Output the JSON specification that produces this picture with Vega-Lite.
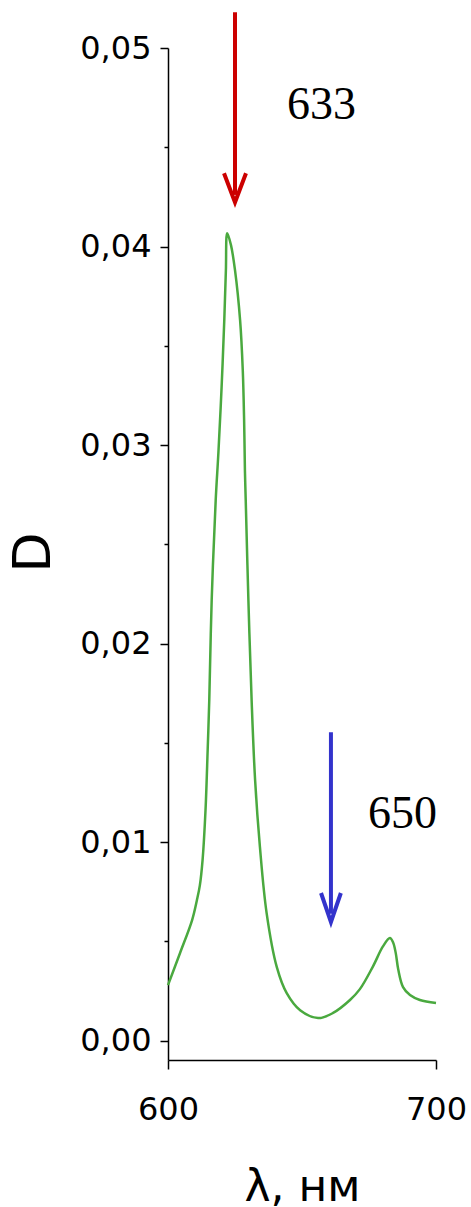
{
  "$schema": "https://vega.github.io/schema/vega-lite/v6.json",
  "autosize": {"type": "none"},
  "padding": {"left": 168, "top": 48, "right": 35, "bottom": 147},
  "width": 268,
  "height": 1012,
  "background": "white",
  "config": {"view": {"stroke": null}},
  "datasets": {
    "curve": [
      {"wl": 600, "d": 0.0028},
      {"wl": 604.5, "d": 0.00442},
      {"wl": 609.0, "d": 0.00608},
      {"wl": 610.8, "d": 0.00709},
      {"wl": 611.9, "d": 0.00784},
      {"wl": 612.9, "d": 0.0091},
      {"wl": 614.0, "d": 0.01162},
      {"wl": 614.8, "d": 0.01464},
      {"wl": 615.4, "d": 0.01716},
      {"wl": 616.3, "d": 0.02219},
      {"wl": 617.8, "d": 0.02723},
      {"wl": 618.8, "d": 0.0296},
      {"wl": 620.0, "d": 0.03292},
      {"wl": 621.0, "d": 0.03629},
      {"wl": 621.6, "d": 0.03881},
      {"wl": 622.1, "d": 0.04067},
      {"wl": 623.5, "d": 0.04007},
      {"wl": 625.0, "d": 0.03881},
      {"wl": 626.9, "d": 0.03629},
      {"wl": 627.9, "d": 0.03377},
      {"wl": 628.4, "d": 0.03126},
      {"wl": 628.7, "d": 0.02874},
      {"wl": 629.0, "d": 0.02723},
      {"wl": 630.0, "d": 0.02219},
      {"wl": 631.2, "d": 0.01716},
      {"wl": 632.5, "d": 0.01313},
      {"wl": 634.3, "d": 0.00976},
      {"wl": 636.8, "d": 0.00643},
      {"wl": 640.6, "d": 0.00371},
      {"wl": 644.3, "d": 0.0024},
      {"wl": 649.3, "d": 0.00154},
      {"wl": 656.0, "d": 0.00114},
      {"wl": 661.6, "d": 0.0014},
      {"wl": 667.9, "d": 0.00205},
      {"wl": 671.6, "d": 0.0026},
      {"wl": 676.5, "d": 0.00375},
      {"wl": 680.2, "d": 0.00475},
      {"wl": 682.8, "d": 0.00517},
      {"wl": 684.0, "d": 0.00495},
      {"wl": 685.0, "d": 0.0044},
      {"wl": 685.9, "d": 0.0036},
      {"wl": 687.7, "d": 0.0027},
      {"wl": 690.3, "d": 0.0023},
      {"wl": 694.0, "d": 0.00205},
      {"wl": 700.0, "d": 0.0019}
    ],
    "shafts": [
      {"arrow": "red", "x": 625.0, "y": 0.0518, "y2": 0.0426},
      {"arrow": "blue", "x": 660.8, "y": 0.01554, "y2": 0.0064}
    ],
    "heads": [
      {"arrow": "red", "o": 0, "x": 620.9, "y": 0.04369},
      {"arrow": "red", "o": 1, "x": 625.0, "y": 0.04223},
      {"arrow": "red", "o": 2, "x": 629.1, "y": 0.04369},
      {"arrow": "blue", "o": 0, "x": 657.1, "y": 0.00744},
      {"arrow": "blue", "o": 1, "x": 660.8, "y": 0.00598},
      {"arrow": "blue", "o": 2, "x": 664.5, "y": 0.00744}
    ],
    "labels": [
      {"x": 657.3, "y": 0.04641, "text": "633"},
      {"x": 687.5, "y": 0.01071, "text": "650"}
    ]
  },
  "layer": [
    {
      "data": {"name": "curve"},
      "mark": {"type": "line", "color": "#4aa93f", "strokeWidth": 2.5, "interpolate": "catmull-rom"},
      "encoding": {
        "x": {
          "field": "wl", "type": "quantitative",
          "scale": {"domain": [600, 700], "nice": false, "zero": false},
          "axis": {
            "values": [600, 700],
            "grid": false,
            "domainColor": "black", "domainWidth": 1.5,
            "tickColor": "black", "tickWidth": 1.5, "tickSize": 9,
            "labelFont": "DejaVu Sans", "labelFontSize": 32, "labelColor": "black",
            "labelPadding": 25, "labelBaseline": "top", "labelFlush": false,
            "title": "λ, нм",
            "titleFont": "DejaVu Sans", "titleFontSize": 44, "titleFontWeight": "normal", "titleColor": "black",
            "titleBaseline": "alphabetic", "titleY": 140, "titleX": 134, "titleAnchor": "middle"
          }
        },
        "y": {
          "field": "d", "type": "quantitative",
          "scale": {"domain": [-0.00097, 0.05], "nice": false, "zero": false},
          "axis": {
            "values": [0, 0.005, 0.01, 0.015, 0.02, 0.025, 0.03, 0.035, 0.04, 0.045, 0.05],
            "grid": false,
            "domainColor": "black", "domainWidth": 1.5,
            "tickColor": "black", "tickWidth": 1.5,
            "tickSize": {"condition": {"test": "round(datum.value * 200) % 2 === 1", "value": 4}, "value": 8},
            "labelExpr": "round(datum.value * 200) % 2 === 1 ? '' : replace(format(datum.value, '.2f'), '.', ',')",
            "labelFont": "DejaVu Sans", "labelFontSize": 32, "labelColor": "black",
            "labelPadding": 9, "labelOverlap": false, "labelFlush": false,
            "title": "D",
            "titleFont": "DejaVu Sans", "titleFontSize": 52, "titleFontWeight": "normal", "titleColor": "black",
            "titleAngle": -90, "titleBaseline": "middle", "titleAlign": "center",
            "titleX": -135, "titleY": 504
          }
        }
      }
    },
    {
      "data": {"name": "shafts"},
      "mark": {"type": "rule", "strokeWidth": 4},
      "encoding": {
        "x": {"field": "x", "type": "quantitative"},
        "y": {"field": "y", "type": "quantitative"},
        "y2": {"field": "y2"},
        "color": {"field": "arrow", "type": "nominal", "scale": {"domain": ["red", "blue"], "range": ["#cc0000", "#3333cc"]}, "legend": null}
      }
    },
    {
      "data": {"name": "heads"},
      "mark": {"type": "line", "strokeWidth": 4, "strokeJoin": "miter", "strokeCap": "butt"},
      "encoding": {
        "x": {"field": "x", "type": "quantitative"},
        "y": {"field": "y", "type": "quantitative"},
        "order": {"field": "o", "type": "quantitative"},
        "detail": {"field": "arrow"},
        "color": {"field": "arrow", "type": "nominal", "scale": {"domain": ["red", "blue"], "range": ["#cc0000", "#3333cc"]}, "legend": null}
      }
    },
    {
      "data": {"name": "labels"},
      "mark": {"type": "text", "font": "Liberation Serif", "fontSize": 46, "align": "center", "baseline": "alphabetic", "color": "black"},
      "encoding": {
        "x": {"field": "x", "type": "quantitative"},
        "y": {"field": "y", "type": "quantitative"},
        "text": {"field": "text"}
      }
    }
  ]
}
